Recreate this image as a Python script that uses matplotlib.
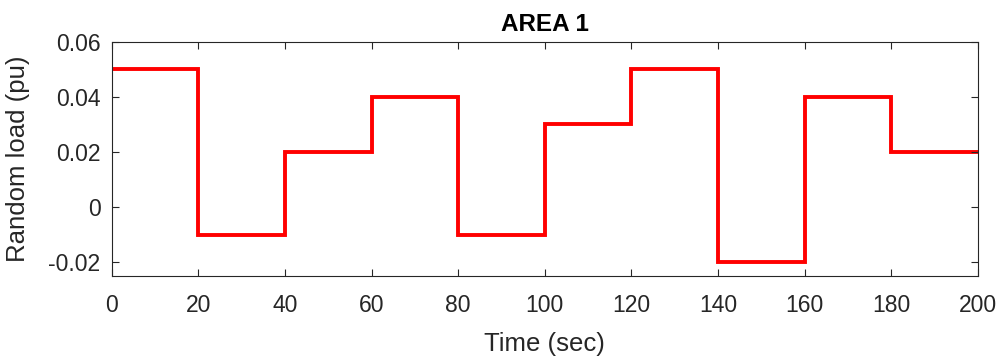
import matplotlib
matplotlib.use("Agg")
import matplotlib.pyplot as plt
import numpy as np

plt.rcParams['font.family'] = ['Liberation Sans', 'DejaVu Sans']

edges = [0, 20, 40, 60, 80, 100, 120, 140, 160, 180, 200]
loads = [0.05, -0.01, 0.02, 0.04, -0.01, 0.03, 0.05, -0.02, 0.04, 0.02]
xticks = [0, 20, 40, 60, 80, 100, 120, 140, 160, 180, 200]
yticks = [-0.02, 0, 0.02, 0.04, 0.06]
yticklabels = ['-0.02', '0', '0.02', '0.04', '0.06']

fig = plt.figure(figsize=(10.06, 3.61), dpi=100)
ax = fig.add_axes([0.111, 0.236, 0.861, 0.648])
ax.stairs(loads, edges, color='#ff0000', linewidth=2.8, baseline=None)
ax.set_xlim(0, 200)
ax.set_ylim(-0.025, 0.06)
ax.set_xticks(xticks)
ax.set_yticks(yticks)
ax.set_yticklabels(yticklabels)
ax.tick_params(direction='in', top=True, right=True, length=5, width=0.8,
               labelsize=16.5, colors='#262626', labelcolor='#262626')
ax.tick_params(axis='x', pad=13)
ax.tick_params(axis='y', pad=8)
ax.set_xlabel('Time (sec)', fontsize=18.5, color='#262626', labelpad=11)
ax.set_ylabel('Random load (pu)', fontsize=18.5, color='#262626', labelpad=13)
ax.set_title('AREA 1', fontsize=17.5, fontweight='bold', color='#000000', pad=8)
for s in ax.spines.values():
    s.set_color('#262626')
    s.set_linewidth(0.8)
fig.savefig('out.png', dpi=100)
